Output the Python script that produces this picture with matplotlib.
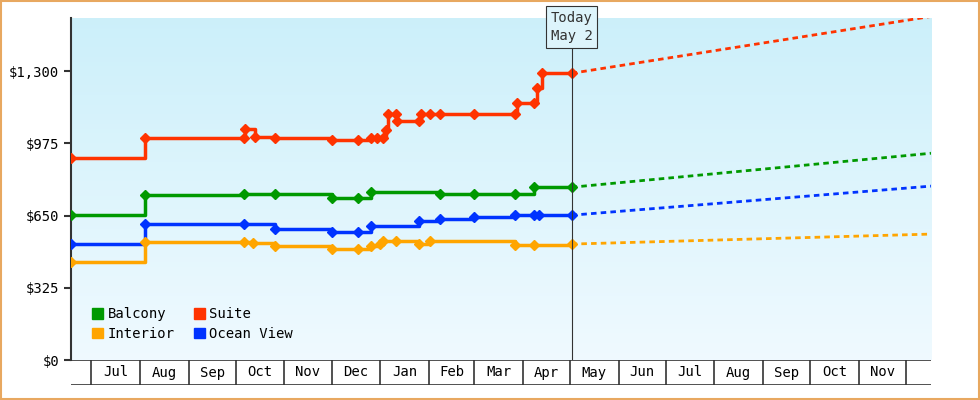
import numpy as np
import pandas as pd
import matplotlib
matplotlib.use("Agg")
import matplotlib.pyplot as plt
import matplotlib.dates as mdates
import matplotlib.transforms as mtrans
from matplotlib.patches import Patch

plt.rcParams["font.family"] = "DejaVu Sans Mono"

# price history (date, price) per cabin type
suite_dates = ["2023-06-18", "2023-08-04", "2023-10-06", "2023-10-07", "2023-10-13", "2023-10-26",
               "2023-12-01", "2023-12-18", "2023-12-26", "2023-12-30", "2024-01-03", "2024-01-05",
               "2024-01-06", "2024-01-11", "2024-01-12", "2024-01-26", "2024-01-27", "2024-02-02",
               "2024-02-08", "2024-03-01", "2024-03-27", "2024-03-28", "2024-04-08", "2024-04-10",
               "2024-04-13", "2024-05-02"]
suite_prices = [909, 999, 999, 1039, 1003, 999, 990, 990, 999, 999, 999, 1035,
                1107, 1107, 1075, 1075, 1107, 1107, 1107, 1107, 1107, 1156, 1156, 1224,
                1291, 1291]

balcony_dates = ["2023-06-18", "2023-08-04", "2023-10-06", "2023-10-26", "2023-12-01", "2023-12-18",
                 "2023-12-26", "2024-02-08", "2024-03-01", "2024-03-27", "2024-04-08", "2024-05-02"]
balcony_prices = [652, 742, 747, 747, 729, 729, 756, 747, 747, 747, 778, 778]

ocean_dates = ["2023-06-18", "2023-08-04", "2023-10-06", "2023-10-26", "2023-12-01", "2023-12-18",
               "2023-12-26", "2024-01-26", "2024-02-08", "2024-03-01", "2024-03-27", "2024-04-08",
               "2024-04-11", "2024-05-02"]
ocean_prices = [522, 522 + 90, 612, 589, 576, 576, 603, 625, 634, 645, 652, 652, 652, 652]

interior_dates = ["2023-06-18", "2023-08-04", "2023-10-06", "2023-10-12", "2023-10-26", "2023-12-01",
                  "2023-12-18", "2023-12-26", "2024-01-01", "2024-01-03", "2024-01-11", "2024-01-26",
                  "2024-02-02", "2024-03-27", "2024-04-08", "2024-05-02"]
interior_prices = [441, 531, 531, 526, 513, 499, 499, 512, 522, 535, 535, 522,
                   535, 517, 517, 522]

# projected price at the end of the window
proj_end_date = "2024-12-17"
proj_end = {"Suite": 1547, "Balcony": 931, "Ocean View": 783, "Interior": 567}

today = "2024-05-02"
start_date = "2023-06-18"

series = [
    ("Balcony", balcony_dates, balcony_prices, "#009900"),
    ("Interior", interior_dates, interior_prices, "#ffa500"),
    ("Suite", suite_dates, suite_prices, "#ff3300"),
    ("Ocean View", ocean_dates, ocean_prices, "#0033ff"),
]

fig = plt.figure(figsize=(9.8, 4.0), dpi=100)
fig.patch.set_facecolor("white")
fig.patches.append(plt.Rectangle((0.001, 0.002), 0.998, 0.996, transform=fig.transFigure,
                                 fill=False, edgecolor="#e8a860", linewidth=1.5))

ax = fig.add_axes([71 / 980, 40 / 400, 860 / 980, 342 / 400])
x0 = mdates.datestr2num(start_date)
x1 = mdates.datestr2num(proj_end_date)
ax.set_xlim(x0, x1)
ax.set_ylim(0, 1540)

grad = np.linspace(0, 1, 256).reshape(-1, 1)
top = np.array([0.80, 0.94, 0.98])
bot = np.array([0.94, 0.98, 1.0])
img = top + (bot - top) * grad[:, :, None]
ax.imshow(img, extent=[0, 1, 0, 1], transform=ax.transAxes, aspect="auto", zorder=0)

handles = []
for name, d, p, c in series:
    xs = mdates.datestr2num(d)
    ax.plot(xs, p, color=c, lw=2.5, drawstyle="steps-post", zorder=3)
    ax.plot(xs, p, "D", color=c, ms=5, zorder=4)
    ax.plot([xs[-1], x1], [p[-1], proj_end[name]], color=c, lw=2, ls=(0, (2, 1.5)), zorder=3)
    handles.append(Patch(color=c, label=name))

xt = mdates.datestr2num(today)
ax.axvline(xt, color="#333333", lw=0.8, zorder=5)
ax.text(xt, 1500, "Today\nMay 2", ha="center", va="center", fontsize=10, color="#333333",
        linespacing=1.4, zorder=6,
        bbox=dict(boxstyle="square,pad=0.35", fc="#ddf4fb", ec="#333333", lw=0.8))

ax.set_yticks([0, 325, 650, 975, 1300])
ax.set_yticklabels(["$0", "$325", "$650", "$975", "$1,300"], fontsize=10)
ax.set_xticks([])
for s in ["top", "right", "bottom"]:
    ax.spines[s].set_visible(False)
ax.spines["left"].set_linewidth(1.5)
ax.spines["left"].set_color("#333333")
ax.tick_params(axis="y", length=5, width=1.5, color="#333333")

leg = ax.legend(handles=handles, ncol=2, loc="lower left", bbox_to_anchor=(0.01, 0.02),
                frameon=False, fontsize=10, handlelength=0.8, handleheight=0.8,
                handletextpad=0.3, columnspacing=1.4, labelspacing=0.4)

# month band below the plot
bx = fig.add_axes([71 / 980, 15 / 400, 860 / 980, 25 / 400])
bx.set_xlim(x0, x1)
bx.set_ylim(0, 1)
bx.axis("off")
bx.axhline(0, color="#333333", lw=1.2)
bx.axhline(1, color="#333333", lw=1.2)
months = pd.date_range("2023-07-01", "2024-12-01", freq="MS")
for i, m in enumerate(months):
    mx = mdates.date2num(m)
    bx.plot([mx, mx], [0, 1], color="#333333", lw=1.2)
    if i + 1 < len(months):
        nx = mdates.date2num(months[i + 1])
        bx.text((mx + nx) / 2, 0.5, m.strftime("%b"), ha="center", va="center", fontsize=10)

fig.savefig("out.png", dpi=100)
